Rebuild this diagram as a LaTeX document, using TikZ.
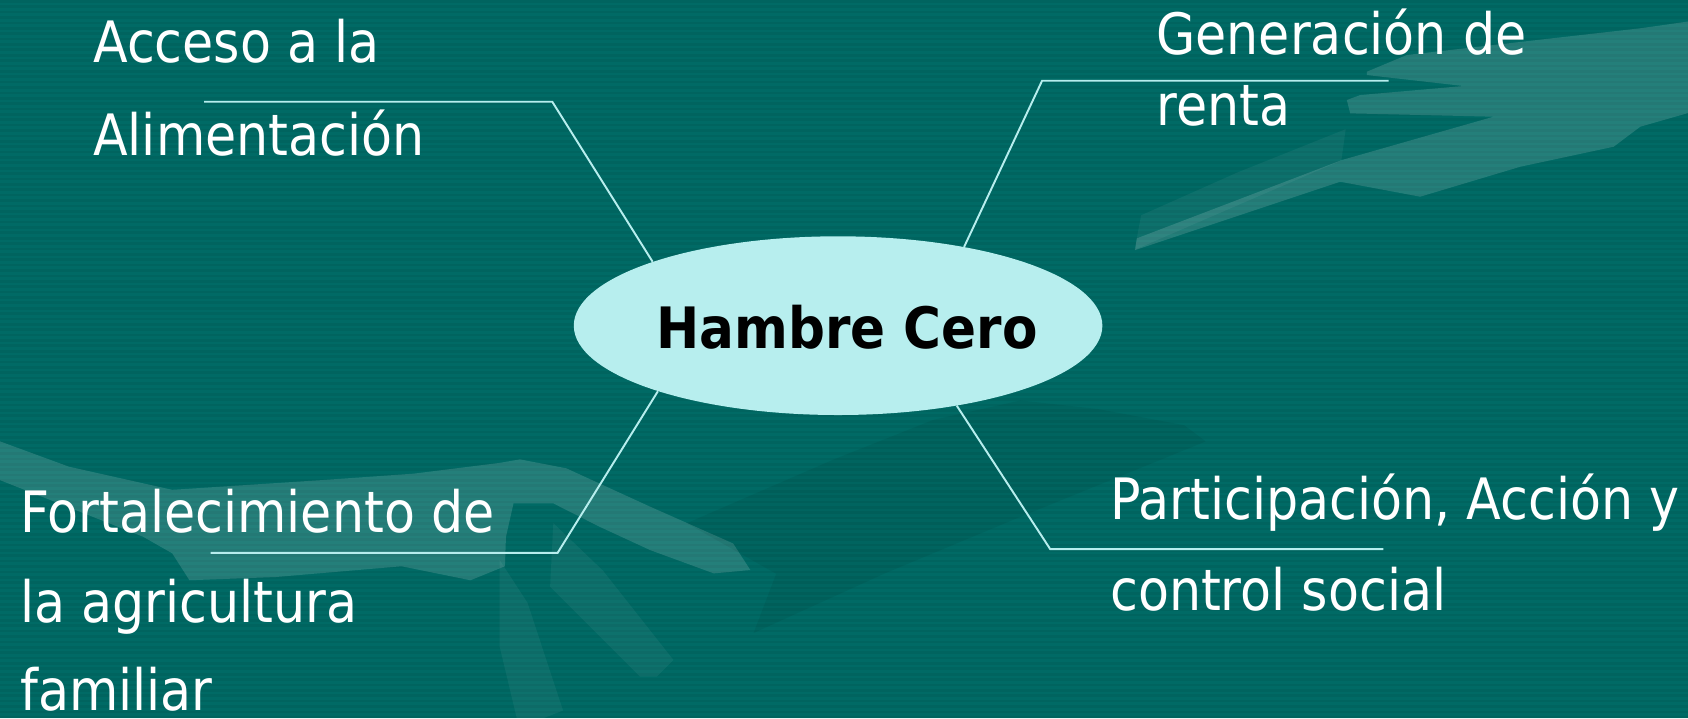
\documentclass[tikz,border=0pt]{standalone}
\usepackage{fontspec}
\usetikzlibrary{shapes.geometric}
\newfontfamily\lblfont{DejaVu Sans}[FakeStretch=0.888]
\newfontfamily\ctrfont{DejaVu Sans}[FakeStretch=0.905]
\definecolor{bgteal}{RGB}{0,106,101}
\definecolor{palecyan}{RGB}{183,238,238}
\begin{document}
\begin{tikzpicture}[x=1pt,y=-1pt,
  lbl/.style={anchor=base west, inner sep=0, text=white, font=\lblfont\fontsize{53}{53}\selectfont},
  conn/.style={draw=palecyan, line width=1.8pt},
  hand/.style={fill=white, opacity=0.14},
  handfaint/.style={fill=white, opacity=0.05},
  shade/.style={fill=black, opacity=0.055}]
\fill[bgteal] (0,0) rectangle (1568,667);
\useasboundingbox (0,0) rectangle (1568,667);
% faint horizontal stripes
\foreach \y in {0,5,...,665} \fill[black, opacity=0.05] (0,\y) rectangle (1568,\y+2.5);
% background silhouettes (upper right hand)
\fill[handfaint] (1054,232) -- (1060,200) -- (1150,160) -- (1250,120) -- (1246,149) -- cycle;
\fill[hand] (1269.7,66.6) -- (1306.8,51.1) -- (1427.6,37.2) -- (1523.6,26.3) -- (1568,20) -- (1568,105) -- (1523.6,117.7) -- (1498.9,136.3) -- (1412.1,154.9) -- (1319.2,182.7) -- (1244.9,168.8) -- (1054.4,232.3) -- (1056,221.4) -- (1246.4,148.7) -- (1387.4,108.4) -- (1254.2,105.3) -- (1251.1,92.9) -- (1263.5,88.3) -- (1359.5,79.9) -- (1269.7,69.7) -- cycle;
% lower left hand
\fill[hand] (0,410) -- (64,433.5) -- (160,455) -- (298.6,446) -- (384,440) -- (464,430) -- (483,426.7) -- (526,435) -- (604,470.7) -- (681,504.8) -- (697,529.5) -- (663,532.6) -- (604,511) -- (557,489.3) -- (514,467.6) -- (477,467.6) -- (470,498.6) -- (469,526) -- (437,539) -- (373,526) -- (256,536) -- (176,539) -- (160,514) -- (133,498.6) -- (0,446) -- cycle;
\fill[handfaint] (514,486) -- (560,530) -- (625.5,613) -- (610,628.6) -- (594.6,628.6) -- (511,545) -- cycle;
\fill[handfaint] (464,520) -- (490,560) -- (523,660) -- (505,667) -- (480,667) -- (464,600) -- cycle;
% darker band
\fill[shade] (638,486) -- (774,427) -- (867,390) -- (948,372) -- (1020,380) -- (1100,395) -- (1120,410) -- (948,480) -- (821,533) -- (700,588) -- (721,533) -- cycle;
% centre
\node[ellipse, fill=palecyan, minimum width=491, minimum height=166, inner sep=0] (hc) at (778.5,302.5) {};
\coordinate (tlb) at (513,94.5);  \coordinate (tle) at (189.5,94.5);
\coordinate (trb) at (968,75);    \coordinate (tre) at (1290,75);
\coordinate (blb) at (518,513.5); \coordinate (ble) at (195.7,513.5);
\coordinate (brb) at (975.5,510); \coordinate (bre) at (1285,510);
\draw[conn] (hc.161.4) -- (tlb) -- (tle);
\draw[conn] (hc.32.3) -- (trb) -- (tre);
\draw[conn] (hc.200.5) -- (blb) -- (ble);
\draw[conn] (hc.326.9) -- (brb) -- (bre);
\node[anchor=base west, inner sep=0, text=black, font=\ctrfont\bfseries\fontsize{53}{53}\selectfont] (ht) at (609.5,323.5) {Hambre Cero};
% labels
\node[lbl] (a1) at (86.4,58.5) {Acceso a la};
\node[lbl] (a2) at (86.4,144) {Alimentación};
\node[lbl] (g1) at (1074,51) {Generación de};
\node[lbl] (g2) at (1074,117) {renta};
\node[lbl] (p1) at (1031,483) {Participación, Acción y};
\node[lbl] (p2) at (1031,567) {control social};
\node[lbl] (f1) at (18.6,495) {Fortalecimiento de};
\node[lbl] (f2) at (18.6,578.5) {la agricultura};
\node[lbl] (f3) at (18.6,660) {familiar};
\end{tikzpicture}
\end{document}
